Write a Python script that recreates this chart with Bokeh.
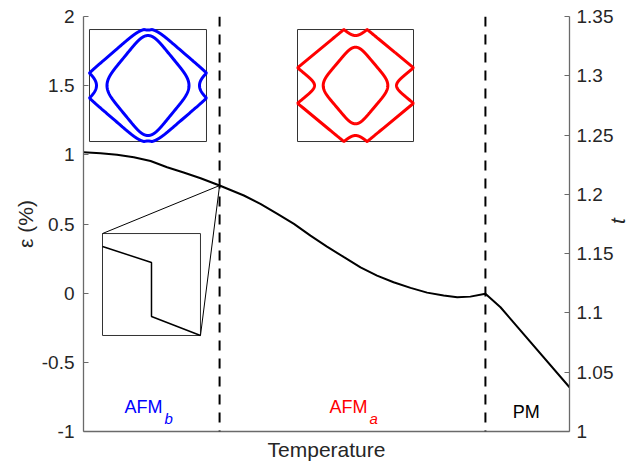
import numpy as np
from bokeh.plotting import figure
from bokeh.models import Range1d, LinearAxis, FixedTicker, Span
from bokeh.embed import file_html
from bokeh.resources import INLINE
from bokeh.core.properties import value

# ---------------- data ----------------
temp_b = [0.0, 3.5, 6.9, 10.35, 13.8, 17.2, 20.6, 24.1, 28.0]
eps_b = [1.019, 1.012, 1.000, 0.983, 0.955, 0.910, 0.872, 0.831, 0.778]
temp_a = [28.0, 33.0, 36.4, 39.9, 43.3, 46.7, 50.1, 53.6, 57.0, 60.4, 63.8,
          67.3, 70.7, 74.1, 76.9, 79.6, 82.7]
eps_a = [0.772, 0.706, 0.646, 0.573, 0.501, 0.416, 0.337, 0.260, 0.187, 0.127,
         0.079, 0.038, 0.004, -0.017, -0.029, -0.025, -0.005]
temp_pm = [82.7, 85.8, 100.0]
eps_pm = [-0.005, -0.102, -0.680]
transitions = [28.0, 82.7]

# magnified view of the jump at the first transition (fractions of inset box)
zoom_x = [0.0, 0.5, 0.5, 1.0]
zoom_y = [0.873, 0.716, 0.186, 0.0]

eps_ticks = [-1, -0.5, 0, 0.5, 1, 1.5, 2]
eps_labels = ["-1", "-0.5", "0", "0.5", "1", "1.5", "2"]
t_ticks = [1.0, 1.05, 1.1, 1.15, 1.2, 1.25, 1.3, 1.35]
t_labels = ["1", "1.05", "1.1", "1.15", "1.2", "1.25", "1.3", "1.35"]

phase_names = ["AFM", "AFM", "PM"]
phase_subs = ["b", "a", ""]
phase_colors = ["#0000ff", "#ff0000", "#000000"]

FONT = "Liberation Sans"

# ---------------- figure ----------------
p = figure(width=643, height=465, x_range=Range1d(0, 100), y_range=Range1d(-1, 2),
           output_backend="svg", toolbar_location=None,
           min_border_left=83, min_border_right=74, min_border_top=16, min_border_bottom=34,
           x_axis_label="Temperature", y_axis_label="ε (%)")
p.outline_line_color = None
p.xgrid.grid_line_color = None
p.ygrid.grid_line_color = None
p.background_fill_color = "white"
p.border_fill_color = "white"

p.extra_y_ranges = {"t": Range1d(1.0, 1.35)}
rax = LinearAxis(y_range_name="t", axis_label="t")
p.add_layout(rax, "right")

p.yaxis[0].ticker = FixedTicker(ticks=eps_ticks)
p.yaxis[0].major_label_overrides = {float(k): s for k, s in zip(eps_ticks, eps_labels)}
rax.ticker = FixedTicker(ticks=t_ticks)
rax.major_label_overrides = {float(k): s for k, s in zip(t_ticks, t_labels)}
p.xaxis.ticker = FixedTicker(ticks=[])

for ax in [p.xaxis[0], p.yaxis[0], rax]:
    ax.axis_line_color = "#6a6a6a"
    ax.axis_line_width = 1.3
    ax.major_tick_line_color = "#6a6a6a"
    ax.major_tick_in = 5
    ax.major_tick_out = 0
    ax.minor_tick_line_color = None
    ax.major_label_text_font = FONT
    ax.major_label_text_font_size = "19px"
    ax.major_label_text_color = "#262626"
    ax.axis_label_text_font = FONT
    ax.axis_label_text_font_size = "21px"
    ax.axis_label_text_font_style = "normal"
    ax.axis_label_text_color = "#262626"
p.yaxis[0].major_label_standoff = 9
rax.major_label_standoff = 7
rax.axis_label_text_font_style = "italic"
try:
    rax.axis_label_orientation = float(np.pi / 2)
except Exception:
    pass
p.xaxis[0].axis_label_standoff = 6
p.yaxis[0].axis_label_standoff = 2
rax.axis_label_standoff = 1

# main curve
T = temp_b + temp_a[1:] + temp_pm[1:]
E = eps_b + eps_a[1:] + eps_pm[1:]
p.line(T, E, line_color="black", line_width=2)

for tc in transitions:
    p.add_layout(Span(location=tc, dimension="height", line_color="black",
                      line_width=2, line_dash="10 8"))

# ---------------- insets ----------------
dT = 100.0 / 486.0     # data per pixel (x)
dE = 3.0 / 415.0       # data per pixel (y)

def fermi(cx, cy, W, H, A, B, pw, n=2400):
    t = np.linspace(0, 2 * np.pi, n)
    c, s = np.cos(t), np.sin(t)
    sp = 2 ** (1 / pw) * np.sign(c) * np.abs(c) ** (2 / pw)
    dp = 2 ** (1 / pw) * np.sign(s) * np.abs(s) ** (2 / pw)
    u = A * (sp + dp) / 2
    v = B * (sp - dp) / 2
    u = np.where(u > W, 2 * W - u, np.where(u < -W, -2 * W - u, u))
    v = np.where(v > H, 2 * H - v, np.where(v < -H, -2 * H - v, v))
    return cx + u * dT, cy + v * dE

def box(cx, cy, W, H):
    p.quad(left=cx - W * dT, right=cx + W * dT, bottom=cy - H * dE, top=cy + H * dE,
           fill_color=None, line_color="#333333", line_width=1)

# blue (AFM_b) Fermi surface
bcx, bcy = 13.27, 1.501
box(bcx, bcy, 58.5, 56)
for (A, B, pw) in [(65.5, 56.5, 6), (41, 50, 5)]:
    x, y = fermi(bcx, bcy, 58.5, 56, A, B, pw)
    p.line(x, y, line_color="#0000ff", line_width=3)

# red (AFM_a) Fermi surface
rcx, rcy = 55.97, 1.501
box(rcx, rcy, 58, 56)
for (A, B, pw) in [(75, 62, 12), (32.3, 38.3, 5)]:
    x, y = fermi(rcx, rcy, 58, 56, A, B, pw)
    p.line(x, y, line_color="#ff0000", line_width=3)

# zoom inset
zl, zr, zb, zt = 3.91, 24.07, -0.306, 0.431
p.quad(left=zl, right=zr, bottom=zb, top=zt, fill_color=None,
       line_color="#333333", line_width=1)
apex = (transitions[0], eps_b[-1])
p.line([zl, apex[0], zr], [zt, apex[1], zb], line_color="black", line_width=1)
p.line([zl + fx * (zr - zl) for fx in zoom_x], [zb + fy * (zt - zb) for fy in zoom_y],
       line_color="black", line_width=1.5)

# phase labels
lab_x = [8.44, 50.6, 88.3]
for name, sub, col, lx in zip(phase_names, phase_subs, phase_colors, lab_x):
    base = -0.824 if sub else -0.859
    p.text(x=[lx], y=[base], text=[name], text_color=col, text_font=value(FONT),
           text_font_size="18px", text_align="left", text_baseline="alphabetic")
    if sub:
        p.text(x=[lx], y=[-0.906], text=[sub], text_color=col, text_font=value(FONT),
               text_font_size="15px", text_font_style="italic", text_align="left",
               text_baseline="alphabetic", x_offset=40)

open("out.html", "w").write(file_html(p, INLINE))
